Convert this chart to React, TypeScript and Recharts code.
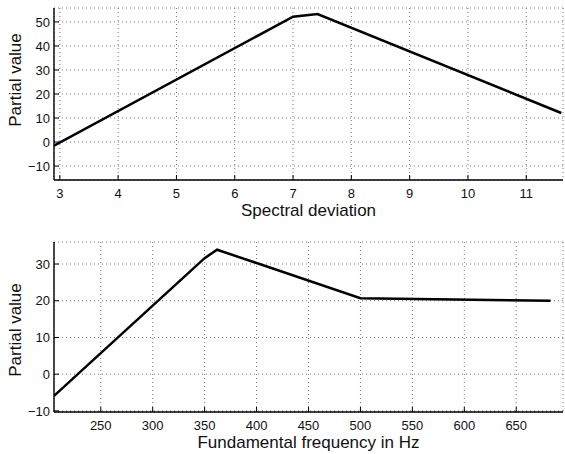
import React from "react";
import { CartesianGrid, Line, LineChart, XAxis, YAxis } from "recharts";

// top panel
const spectralDeviation = [2.9, 7.0, 7.42, 11.6];
const spectralPartial = [-1.5, 52.2, 53.3, 12.1];
const spectralTicks = [3, 4, 5, 6, 7, 8, 9, 10, 11];
const spectralValueTicks = [-10, 0, 10, 20, 30, 40, 50];

// bottom panel
const fundamentalHz = [205, 350, 362, 500, 683];
const fundamentalPartial = [-5.9, 31.6, 33.9, 20.7, 20.0];
const fundamentalTicks = [250, 300, 350, 400, 450, 500, 550, 600, 650];
const fundamentalValueTicks = [-10, 0, 10, 20, 30];

const font = '"Liberation Sans", Arial, Helvetica, sans-serif';
const fmt = (v: number) => String(v).replace("-", "\u2212");

const BottomTick = (props: any) => {
  const { x, y, payload } = props;
  return (
    <g>
      <line x1={x} x2={x} y1={y - 9} y2={y - 14} stroke="#000" />
      <text x={x} y={y} dy="0.71em" textAnchor="middle" fontSize={13} fontFamily={font} fill="#111">
        {fmt(payload.value)}
      </text>
    </g>
  );
};

const TopTick = (props: any) => {
  const { x, y } = props;
  return <line x1={x} x2={x} y1={y} y2={y + 5} stroke="#000" />;
};

const LeftTick = (props: any) => {
  const { x, y, payload } = props;
  return (
    <g>
      <line x1={x + 4} x2={x + 9} y1={y} y2={y} stroke="#000" />
      <text x={x} y={y} dy="0.36em" textAnchor="end" fontSize={13} fontFamily={font} fill="#111">
        {fmt(payload.value)}
      </text>
    </g>
  );
};

const RightTick = (props: any) => {
  const { x, y } = props;
  return <line x1={x} x2={x - 5} y1={y} y2={y} stroke="#000" />;
};

const xLabel = (text: string) => (p: any) => {
  const vb = p.viewBox;
  return (
    <text x={vb.x + vb.width / 2} y={vb.y + 36} textAnchor="middle" fontSize={17} fontFamily={font} fill="#111">
      {text}
    </text>
  );
};

const yLabel = (text: string, shift: number) => (p: any) => {
  const vb = p.viewBox;
  const cy = vb.y + vb.height / 2 + shift;
  return (
    <text x={15} y={cy} dy="0.36em" transform={`rotate(-90, 15, ${cy})`} textAnchor="middle" fontSize={17} fontFamily={font} fill="#111">
      {text}
    </text>
  );
};

type PanelProps = {
  xs: number[];
  ys: number[];
  xDomain: [number, number];
  yDomain: [number, number];
  xTicks: number[];
  yTicks: number[];
  xTitle: string;
  top: number;
  height: number;
  marginTop: number;
  labelShift: number;
};

const Panel = ({ xs, ys, xDomain, yDomain, xTicks, yTicks, xTitle, top, height, marginTop, labelShift }: PanelProps) => {
  const data = xs.map((x, i) => ({ x, y: ys[i] }));
  const axisLine = { stroke: "#000", strokeWidth: 1.4 };
  return (
    <div style={{ position: "absolute", left: 0, top }}>
      <LineChart width={565} height={height} data={data} margin={{ top: marginTop, right: 2, bottom: 0, left: 0 }}>
        <CartesianGrid stroke="#777" strokeDasharray="1 3" />
        <XAxis
          dataKey="x"
          type="number"
          domain={xDomain}
          ticks={xTicks}
          allowDataOverflow
          height={42}
          axisLine={axisLine}
          tickLine={false}
          tickSize={0}
          tickMargin={9}
          tick={<BottomTick />}
          interval={0}
          label={xLabel(xTitle)}
        />
        <XAxis
          xAxisId="top"
          orientation="top"
          dataKey="x"
          type="number"
          domain={xDomain}
          ticks={xTicks}
          allowDataOverflow
          height={0}
          axisLine={axisLine}
          tickLine={false}
          tickSize={0}
          tickMargin={0}
          tick={<TopTick />}
          interval={0}
        />
        <YAxis
          type="number"
          domain={yDomain}
          ticks={yTicks}
          allowDataOverflow
          width={54}
          axisLine={axisLine}
          tickLine={false}
          tickSize={0}
          tickMargin={4}
          tick={<LeftTick />}
          interval={0}
          label={yLabel("Partial value", labelShift)}
        />
        <YAxis
          yAxisId="right"
          orientation="right"
          type="number"
          domain={yDomain}
          ticks={yTicks}
          allowDataOverflow
          width={0}
          axisLine={axisLine}
          tickLine={false}
          tickSize={0}
          tickMargin={0}
          tick={<RightTick />}
          interval={0}
        />
        <Line type="linear" dataKey="y" stroke="#000" strokeWidth={2.5} dot={false} isAnimationActive={false} />
      </LineChart>
    </div>
  );
};

const App = () => {
  return (
    <div style={{ position: "absolute", left: 0, top: 0, width: 565, height: 454, background: "#fff" }}>
      <Panel
        xs={spectralDeviation}
        ys={spectralPartial}
        xDomain={[2.9, 11.63]}
        yDomain={[-15.8, 55.8]}
        xTicks={spectralTicks}
        yTicks={spectralValueTicks}
        xTitle="Spectral deviation"
        top={0}
        height={222}
        marginTop={8}
        labelShift={-14}
      />
      <Panel
        xs={fundamentalHz}
        ys={fundamentalPartial}
        xDomain={[205, 695]}
        yDomain={[-10.3, 36]}
        xTicks={fundamentalTicks}
        yTicks={fundamentalValueTicks}
        xTitle="Fundamental frequency in Hz"
        top={230}
        height={224}
        marginTop={12}
        labelShift={3}
      />
    </div>
  );
};

export default App;
